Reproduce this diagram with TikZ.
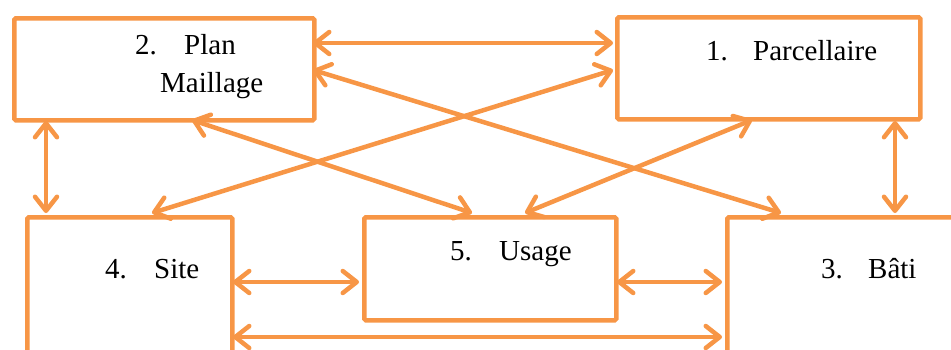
\documentclass[tikz,border=0pt]{standalone}
\usepackage{fontspec}
\setmainfont{Liberation Serif}
\usetikzlibrary{arrows.meta}
\definecolor{org}{HTML}{F79646}
\begin{document}
\begin{tikzpicture}[x=1pt,y=-1pt,
  box/.style={draw=org, line width=4.5pt, rounded corners=1.5pt, fill=white, inner sep=0pt, anchor=north west},
  tipb/.tip={Straight Barb[length=14pt,width=22pt,round]},
  arr/.style={draw=org, line width=4.5pt, line cap=round, tipb-tipb},
  lbl/.style={anchor=base west, inner sep=0pt, font=\fontsize{29}{34}\selectfont}]
\useasboundingbox (0,0) rectangle (951,349);
\begin{scope}
\clip (0,0) rectangle (951,349);
% boxes
\node[box, minimum width=300pt, minimum height=102pt] (b2) at (12,16) {};
\node[box, minimum width=303pt, minimum height=102pt] (b1) at (615,15) {};
\node[box, minimum width=205pt, minimum height=200pt] (b4) at (25,215) {};
\node[box, minimum width=252pt, minimum height=103pt] (b5) at (362,215) {};
\node[box, minimum width=300pt, minimum height=200pt] (b3) at (725,215) {};
% labels
\node[lbl] (t2n) at (135,54) {2.};
\node[lbl] (t2a) at (184,54) {Plan};
\node[lbl] (t2b) at (160,92) {Maillage};
\node[lbl] (t1n) at (706,60) {1.};
\node[lbl] (t1a) at (753,60) {Parcellaire};
\node[lbl] (t4n) at (105,278) {4.};
\node[lbl] (t4a) at (154,278) {Site};
\node[lbl] (t5n) at (450,260) {5.};
\node[lbl] (t5a) at (499,260) {Usage};
\node[lbl] (t3n) at (821,278) {3.};
\node[lbl] (t3a) at (868,278) {Bâti};
% connector ends
\coordinate (a2r) at (313,43);  \coordinate (a1l) at (613,43);
\coordinate (c2r) at (313,70);  \coordinate (c3t) at (781,213);
\coordinate (c1l) at (613,70);  \coordinate (c4t) at (152,213);
\coordinate (d2b) at (192,120); \coordinate (d5t) at (472,213);
\coordinate (e1b) at (752,120); \coordinate (e5t) at (525,213);
\coordinate (f2b) at (46,121);  \coordinate (f4t) at (46,213);
\coordinate (g1b) at (895,121); \coordinate (g3t) at (895,213);
\coordinate (h4r) at (233,282); \coordinate (h5l) at (359,282);
\coordinate (i5r) at (617,282); \coordinate (i3l) at (722,282);
\coordinate (j4r) at (233,337); \coordinate (j3l) at (722,337);
% connectors
\draw[arr] (a2r) -- (a1l);
\draw[arr] (c2r) -- (c3t);
\draw[arr] (c1l) -- (c4t);
\draw[arr] (d2b) -- (d5t);
\draw[arr] (e1b) -- (e5t);
\draw[arr] (f2b) -- (f4t);
\draw[arr] (g1b) -- (g3t);
\draw[arr] (h4r) -- (h5l);
\draw[arr] (i5r) -- (i3l);
\draw[arr] (j4r) -- (j3l);
\end{scope}
\end{tikzpicture}
\end{document}
